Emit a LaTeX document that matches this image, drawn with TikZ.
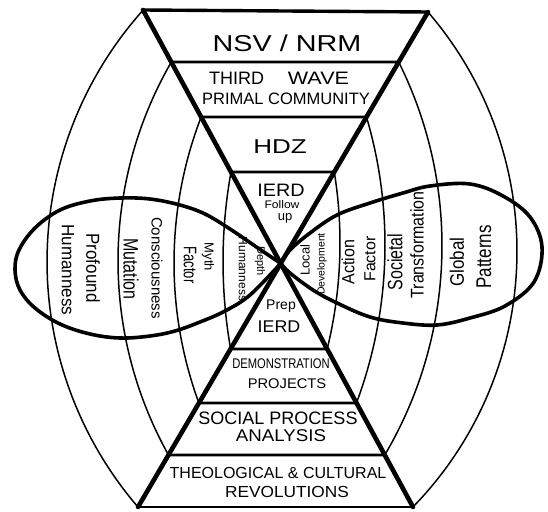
\documentclass[tikz,border=0pt]{standalone}
\usepackage{fontspec}
\setmainfont{Liberation Sans}
\usetikzlibrary{calc}
\newcommand\fs[1]{\fontsize{#1}{#1}\selectfont}
% left bulging arc: centre (#1,#2), radius #3, top (#4,#5), bottom (#6,#7)
\newcommand\arcLeft[7]{%
  \pgfmathsetmacro\myaT{atan2((#5)-(#2),(#4)-(#1))+360}%
  \pgfmathsetmacro\myaB{atan2((#7)-(#2),(#6)-(#1))}%
  \draw[arcline] (#6,#7) -- plot[domain=\myaB:\myaT, samples=60, variable=\x] ({(#1)+(#3)*cos(\x)},{(#2)+(#3)*sin(\x)}) -- (#4,#5);}
\newcommand\arcRight[7]{%
  \pgfmathsetmacro\myaT{atan2((#5)-(#2),(#4)-(#1))}%
  \pgfmathsetmacro\myaB{atan2((#7)-(#2),(#6)-(#1))}%
  \draw[arcline] (#4,#5) -- plot[domain=\myaT:\myaB, samples=60, variable=\x] ({(#1)+(#3)*cos(\x)},{(#2)+(#3)*sin(\x)}) -- (#6,#7);}
\tikzset{
  arcline/.style={line width=1.5pt},
  lobe/.style={line width=3.6pt, line join=round},
  edgeline/.style={line width=4.6pt, line cap=round},
  rung/.style={line width=2.6pt},
  lbl/.style={inner sep=0pt, anchor=center},
  lt/.style={lbl, rotate=-90},
  rt/.style={lbl, rotate=90},
}
\begin{document}
\begin{tikzpicture}[x=1pt, y=-1pt]
\path[fill=white] (0,0) rectangle (548,511);
\useasboundingbox (0,0) rectangle (548,511);

% corner coordinates of the hourglass
\coordinate (TL) at (143,10);
\coordinate (TR) at (428,12);
\coordinate (BL) at (138,507);
\coordinate (BR) at (413,507);

% arcs, left side
\arcLeft{424}{261.5}{377}{143}{10}{138}{507}
\arcLeft{516}{261}{398}{171.3}{62}{168.5}{455}
\arcLeft{580.4}{263}{406.4}{201.1}{117}{198.9}{403}
\arcLeft{729}{261.6}{506}{231}{172}{230.6}{349}
% arcs, right side
\arcRight{150.8}{251.3}{366.2}{428}{12}{413}{507}
\arcRight{30.6}{245.7}{411.4}{398.7}{62}{384.8}{455}
\arcRight{-67}{245}{452}{366.5}{117}{356.5}{403}
\arcRight{-105}{243}{445}{334.3}{172}{327.2}{349}

% lobes
\draw[lobe] plot[smooth, tension=0.6] coordinates {(280.7,263.4) (255,246) (230,229) (205,214) (180,205) (150,199) (120,198) (90,201) (60,210) (35,228) (19,250) (15,270) (20,290) (35,308) (60,324) (90,334) (120,338) (150,336) (175,331) (200,322) (225,311) (250,295) (280.7,263.4)};
\draw[lobe] plot[smooth, tension=0.6] coordinates {(280.7,263.4) (290,250) (310,233) (337,215) (370,203) (403,193) (430,186) (470,184) (503,196) (530,217) (542,247) (534,282) (505,306) (470,318) (437,325) (403,323) (370,317) (337,303) (313,290) (290,273) (280.7,263.4)};

% hourglass
\draw[edgeline] (TL) -- (BR);
\draw[edgeline] (TR) -- (BL);
\draw[line width=3.4pt] (TL) -- (TR);
\draw[rung] (BL) -- (BR);
\draw[rung] ($(TL)!{(62-10)/497}!(BR)$) -- ($(TR)!{(62-12)/495}!(BL)$);
\draw[rung] ($(TL)!{(117-10)/497}!(BR)$) -- ($(TR)!{(117-12)/495}!(BL)$);
\draw[rung] ($(TL)!{(172-10)/497}!(BR)$) -- ($(TR)!{(172-12)/495}!(BL)$);
\draw[rung] ($(TL)!{(349-10)/497}!(BR)$) -- ($(TR)!{(349-12)/495}!(BL)$);
\draw[rung] ($(TL)!{(403-10)/497}!(BR)$) -- ($(TR)!{(403-12)/495}!(BL)$);
\draw[rung] ($(TL)!{(455-10)/497}!(BR)$) -- ($(TR)!{(455-12)/495}!(BL)$);

% top triangle labels
\node[lbl, font=\fs{23}, xscale=1.25] (nsv) at (287,43) {NSV / NRM};
\node[lbl, font=\fs{18}] (third) at (236.5,78) {THIRD};
\node[lbl, font=\fs{18}, xscale=1.2] (wave) at (318.5,78) {WAVE};
\node[lbl, font=\fs{16.5}] (primal) at (286,99) {PRIMAL COMMUNITY};
\node[lbl, font=\fs{20}, xscale=1.3] (hdz) at (280,147) {HDZ};
\node[lbl, font=\fs{18}, xscale=1.1] (ierd1) at (281,190) {IERD};
\node[lbl, font=\fs{11}, xscale=1.1] (follow) at (282,205) {Follow};
\node[lbl, font=\fs{13}] (up) at (285,218) {up};

% bottom triangle labels
\node[lbl, font=\fs{14}] (prep) at (281,306) {Prep};
\node[lbl, font=\fs{17}, xscale=1.05] (ierd2) at (279,327) {IERD};
\node[lbl, font=\fs{14}, xscale=0.8] (demo) at (281,364) {DEMONSTRATION};
\node[lbl, font=\fs{14}, xscale=1.05] (proj) at (287,384) {PROJECTS};
\node[lbl, font=\fs{18}] (social) at (278,418) {SOCIAL PROCESS};
\node[lbl, font=\fs{17}, xscale=1.1] (anal) at (281,436) {ANALYSIS};
\node[lbl, font=\fs{16}] (theo) at (278,473) {THEOLOGICAL \& CULTURAL};
\node[lbl, font=\fs{16}, xscale=1.08] (revo) at (287,492) {REVOLUTIONS};

% left lobe labels (stretched along the reading direction)
\node[lt, font=\fs{17}, yscale=1.1] (pf) at (93,268) {Profound};
\node[lt, font=\fs{17}, yscale=1.05] (hm1) at (68,270) {Humanness};
\node[lt, font=\fs{15}] (cs) at (157,268) {Consciousness};
\node[lt, font=\fs{16}, yscale=1.3] (mu) at (131,269) {Mutation};
\node[lt, font=\fs{13}] (my) at (208,257) {Myth};
\node[lt, font=\fs{13}, yscale=1.4] (fa1) at (190,265) {Factor};
\node[lt, font=\fs{11}] (de) at (260,261) {Depth};
\node[lt, font=\fs{12}] (hm2) at (243,269) {Humanness};

% right lobe labels
\node[rt, font=\fs{13}] (lo) at (305,260) {Local};
\node[rt, font=\fs{10.5}] (dv) at (322,264) {Development};
\node[rt, font=\fs{16}, yscale=1.1] (ac) at (348,262) {Action};
\node[rt, font=\fs{16}] (fa2) at (370,259) {Factor};
\node[rt, font=\fs{16}, yscale=1.3] (so) at (395,262) {Societal};
\node[rt, font=\fs{16}, yscale=1.15] (tr) at (417,245) {Transformation};
\node[rt, font=\fs{17}, yscale=1.15] (gl) at (457,262) {Global};
\node[rt, font=\fs{17}, yscale=1.25] (pa) at (484,257) {Patterns};
\end{tikzpicture}
\end{document}
